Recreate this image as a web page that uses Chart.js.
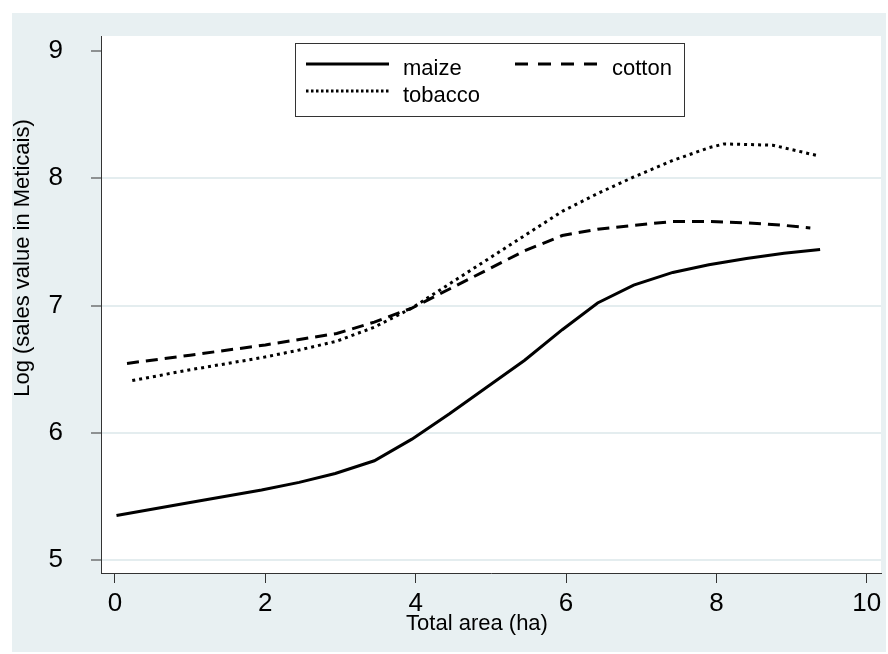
<!DOCTYPE html>
<html lang="en">
<head>
<meta charset="UTF-8">
<title>Log sales value by total area</title>
<script src="https://cdn.jsdelivr.net/npm/chart.js"></script>
<style>
    html, body { margin: 0; padding: 0; background: #fff; }
    #chart { display: block; }
</style>
</head>
<body>
<canvas id="chart" width="888" height="654"></canvas>
<script>
// total area (ha) and log sales value
const maizeArea = [0.02, 0.98, 1.95, 2.45, 2.93, 3.45, 3.95, 4.45, 4.95, 5.45, 5.95, 6.42, 6.9, 7.42, 7.9, 8.4, 8.9, 9.38];
const maizeValue = [5.35, 5.45, 5.55, 5.61, 5.68, 5.78, 5.95, 6.15, 6.36, 6.57, 6.81, 7.02, 7.16, 7.26, 7.32, 7.37, 7.41, 7.44];

const cottonArea = [0.16, 1.0, 2.0, 2.95, 3.45, 3.95, 4.45, 4.95, 5.45, 5.95, 6.42, 6.9, 7.42, 7.9, 8.4, 8.9, 9.25];
const cottonValue = [6.545, 6.61, 6.69, 6.78, 6.87, 6.98, 7.13, 7.28, 7.43, 7.55, 7.6, 7.63, 7.66, 7.66, 7.65, 7.63, 7.61];

const tobaccoArea = [0.23, 0.95, 1.95, 2.45, 2.95, 3.45, 3.95, 4.45, 4.95, 5.45, 5.95, 6.42, 6.9, 7.42, 7.9, 8.1, 8.75, 9.33];
const tobaccoValue = [6.41, 6.49, 6.59, 6.65, 6.72, 6.83, 6.98, 7.17, 7.36, 7.55, 7.74, 7.88, 8.01, 8.14, 8.24, 8.27, 8.26, 8.18];

const xTicks = [0, 2, 4, 6, 8, 10];
const yTicks = [5, 6, 7, 8, 9];

const FONT = '"Liberation Sans", Arial, sans-serif';
const BG = '#E8F0F2';

function points(xs, ys) {
    return xs.map((x, i) => ({ x: x, y: ys[i] }));
}

// page background, plot region and white plot area
const backdrop = {
    id: 'backdrop',
    beforeDraw(chart) {
        const { ctx, chartArea: a } = chart;
        ctx.save();
        ctx.fillStyle = '#fff';
        ctx.fillRect(0, 0, chart.width, chart.height);
        ctx.fillStyle = BG;
        ctx.fillRect(12, 13, 874, 639);
        ctx.fillStyle = '#fff';
        ctx.fillRect(a.left, a.top, a.right - a.left, a.bottom - a.top);
        ctx.restore();
    }
};

// axis titles and the two-column legend box
const annotations = {
    id: 'annotations',
    afterDraw(chart) {
        const ctx = chart.ctx;
        ctx.save();
        ctx.fillStyle = '#000';
        ctx.font = '22px ' + FONT;
        ctx.textAlign = 'center';
        ctx.textBaseline = 'alphabetic';
        ctx.fillText('Total area (ha)', 477, 630);

        ctx.translate(29, 258);
        ctx.rotate(-Math.PI / 2);
        ctx.fillText('Log (sales value in Meticais)', 0, 0);
        ctx.restore();

        ctx.save();
        ctx.fillStyle = '#fff';
        ctx.fillRect(295, 43, 389, 74);
        ctx.strokeStyle = '#333';
        ctx.lineWidth = 1;
        ctx.strokeRect(295.5, 43.5, 389, 73);
        const slots = [{ x: 306, y: 64 }, { x: 515, y: 64 }, { x: 306, y: 91 }];
        chart.data.datasets.forEach((ds, i) => {
            const s = slots[i];
            ctx.beginPath();
            ctx.setLineDash(ds.legendDash);
            ctx.lineCap = 'butt';
            ctx.lineWidth = 3;
            ctx.strokeStyle = ds.borderColor;
            ctx.moveTo(s.x, s.y);
            ctx.lineTo(s.x + 83, s.y);
            ctx.stroke();
            ctx.setLineDash([]);
            ctx.fillStyle = '#000';
            ctx.font = '22px ' + FONT;
            ctx.textAlign = 'left';
            ctx.textBaseline = 'alphabetic';
            ctx.fillText(ds.label, s.x + 97, s.y + 11);
        });
        ctx.restore();
    }
};

new Chart(document.getElementById('chart'), {
    type: 'line',
    data: {
        datasets: [{
            label: 'maize',
            data: points(maizeArea, maizeValue),
            borderColor: '#000',
            borderWidth: 3,
            borderDash: [],
            legendDash: []
        }, {
            label: 'cotton',
            data: points(cottonArea, cottonValue),
            borderColor: '#000',
            borderWidth: 3,
            borderDash: [12, 7],
            legendDash: [13, 10]
        }, {
            label: 'tobacco',
            data: points(tobaccoArea, tobaccoValue),
            borderColor: '#000',
            borderWidth: 3,
            borderDash: [3, 4],
            legendDash: [2.5, 2.5]
        }]
    },
    options: {
        responsive: false,
        animation: false,
        layout: { padding: { left: 0, top: 36, right: 7, bottom: 0 } },
        elements: {
            point: { radius: 0 },
            line: { tension: 0, borderCapStyle: 'butt', fill: false }
        },
        plugins: {
            legend: { display: false },
            tooltip: { enabled: false }
        },
        scales: {
            x: {
                type: 'linear',
                min: -0.186,
                max: 10.19,
                afterFit(scale) {
                    scale.height = 81;
                    scale.paddingLeft = 0;
                    scale.paddingRight = 0;
                },
                afterBuildTicks(scale) { scale.ticks = xTicks.map(v => ({ value: v })); },
                grid: {
                    drawOnChartArea: false,
                    drawTicks: true,
                    tickLength: 10,
                    tickColor: '#333'
                },
                border: { color: '#333', width: 1 },
                ticks: {
                    padding: 5,
                    maxRotation: 0,
                    color: '#000',
                    font: { family: FONT, size: 26 }
                }
            },
            y: {
                type: 'linear',
                min: 4.898,
                max: 9.118,
                afterFit(scale) {
                    scale.width = 101;
                    scale.paddingTop = 0;
                    scale.paddingBottom = 0;
                },
                afterBuildTicks(scale) { scale.ticks = yTicks.map(v => ({ value: v })); },
                grid: {
                    color: ctx => (ctx.tick && ctx.tick.value === 9 ? 'rgba(0,0,0,0)' : '#E4EDEF'),
                    lineWidth: 2,
                    drawTicks: true,
                    tickLength: 10,
                    tickColor: '#333',
                    tickWidth: 1
                },
                border: { color: '#333', width: 1 },
                ticks: {
                    padding: 28,
                    color: '#000',
                    font: { family: FONT, size: 26 }
                }
            }
        }
    },
    plugins: [backdrop, annotations]
});
</script>
</body>
</html>
